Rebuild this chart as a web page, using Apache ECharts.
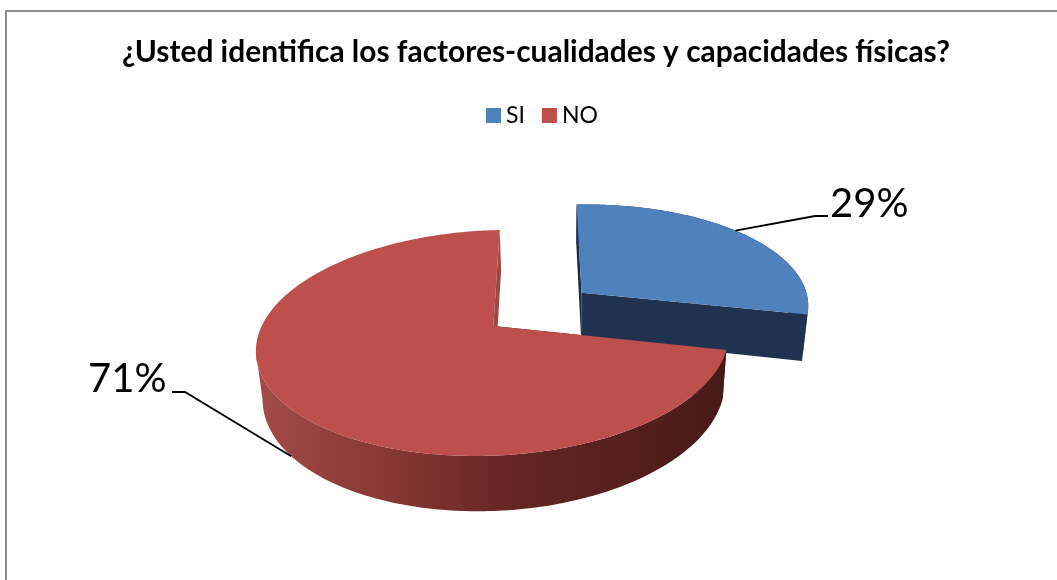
<!DOCTYPE html>
<html>
<head>
<meta charset="UTF-8">
<title>factores</title>
<script src="https://cdn.jsdelivr.net/npm/echarts@6/dist/echarts.min.js"></script>
<style>
html,body{margin:0;padding:0;background:#fff}
#charts{width:1057px;height:580px}
</style>
</head>
<body>
<div id="charts"></div>
<script type="text/javascript">
var titulo = '¿Usted identifica los factores-cualidades y capacidades físicas?';
var categorias = ['SI', 'NO'];
var valores = [29, 71];
var colores = ['#4f81bd', '#bd4f4c'];

// proyeccion del pie 3D, medida sobre la imagen
var ax = 493.3, ay = 326;
var rx = 233.5, ry = 110.4, sesgo = 7.4, giro = 4.5, persp = 0.15;
var alto = 47, fugaX = 561, fugaK = 0.022;
var separado = [0.4876, 0];

var total = valores[0] + valores[1];

function proy(X, Z) {
	var w = 1 + persp * Z;
	return [ax + (rx * X + sesgo * Z) / w, ay - (ry * Z + giro * X) / w, w];
}
function abajo(p) {
	return [p[0] + (fugaX - p[0]) * fugaK, p[1] + alto / p[2], p[2]];
}
function angulos(idx) {
	var ini = 0;
	for (var i = 0; i < idx; i++) ini += valores[i] / total * 360;
	return [ini, ini + valores[idx] / total * 360];
}
function poli(puntos, fill, z2) {
	return {type: 'polygon', z2: z2, shape: {points: puntos}, style: {fill: fill}};
}

var muros = [
	{borde: '#1f3350', corte: '#1f3350', caraIni: '#1a2c45'},
	{
		borde: {type: 'linear', x: 0, y: 0, x2: 1, y2: 0, colorStops: [
			{offset: 0, color: '#a34b48'},
			{offset: 0.3, color: '#853633'},
			{offset: 0.55, color: '#632523'},
			{offset: 0.8, color: '#541f1d'},
			{offset: 1, color: '#471a18'}
		]},
		corte: '#a04744',
		caraIni: '#3c1412'
	}
];
var etiquetas = [
	{codo: [815, 216], fin: [828, 216], x: 830, y: 204, enMuro: false, desvio: -2},
	{codo: [185, 392], fin: [172, 392], x: 88, y: 379, enMuro: true, desvio: 0}
];

function dibujar(params, api) {
	var idx = params.seriesIndex;
	var a = angulos(idx);
	var medio = (a[0] + a[1]) / 2 * Math.PI / 180;
	var ox = Math.sin(medio) * separado[idx], oz = Math.cos(medio) * separado[idx];
	var borde = [];
	for (var g = a[0]; g < a[1]; g += 1) {
		var r = g * Math.PI / 180;
		borde.push(proy(ox + Math.sin(r), oz + Math.cos(r)));
	}
	var rf = a[1] * Math.PI / 180;
	borde.push(proy(ox + Math.sin(rf), oz + Math.cos(rf)));
	var vertice = proy(ox, oz);
	var primero = borde[0], ultimo = borde[borde.length - 1];
	var m = muros[idx], hijos = [];

	// el muro exterior solo llega hasta el punto mas a la izquierda del borde
	var frente = borde;
	if (a[1] > 270) {
		var izq = 0;
		borde.forEach(function (p, i) { if (p[0] < borde[izq][0]) izq = i; });
		frente = borde.slice(0, izq + 1);
	}

	hijos.push(poli([vertice, primero, abajo(primero), abajo(vertice)], m.caraIni, 1));
	hijos.push(poli(frente.concat(frente.map(abajo).reverse()), m.borde, 2));
	hijos.push(poli([vertice, ultimo, abajo(ultimo), abajo(vertice)], m.corte, 2.5));
	hijos.push(poli([vertice].concat(borde), colores[idx], 3));

	var e = etiquetas[idx];
	var am = medio + e.desvio * Math.PI / 180;
	var ancla = proy(ox + Math.sin(am), oz + Math.cos(am));
	if (e.enMuro) ancla = abajo(ancla);
	hijos.push({
		type: 'polyline', z2: 4,
		shape: {points: [[ancla[0], ancla[1]], e.codo, e.fin]},
		style: {stroke: '#000', lineWidth: 1.8, fill: 'none'}
	});
	hijos.push({
		type: 'text', z2: 4, x: e.x, y: e.y,
		style: {
			text: Math.round(valores[idx] / total * 100) + '%',
			fill: '#000', font: '40px Lato', verticalAlign: 'middle'
		}
	});
	return {type: 'group', children: hijos};
}

var mychart = echarts.init(document.getElementById('charts'));
var option = {
	backgroundColor: '#fff',
	animation: false,
	title: {
		text: titulo,
		left: 117, top: 32,
		textStyle: {fontFamily: 'Lato', fontWeight: 'bold', fontSize: 29.9, color: '#000'}
	},
	legend: {
		data: categorias,
		left: 481, top: 99,
		icon: 'rect', itemWidth: 15, itemHeight: 15, itemGap: 17,
		textStyle: {fontFamily: 'Lato', fontSize: 23, color: '#000'}
	},
	graphic: [{
		type: 'polyline',
		shape: {points: [[6, 580], [6, 11], [1057, 11]]},
		style: {stroke: '#8e8e8e', lineWidth: 2, fill: 'none'}
	}],
	series: categorias.map(function (c, i) {
		return {
			name: c,
			type: 'custom',
			coordinateSystem: 'none',
			renderItem: dibujar,
			itemStyle: {color: colores[i]},
			data: [valores[i]]
		};
	})
};
mychart.setOption(option);
</script>
</body>
</html>
